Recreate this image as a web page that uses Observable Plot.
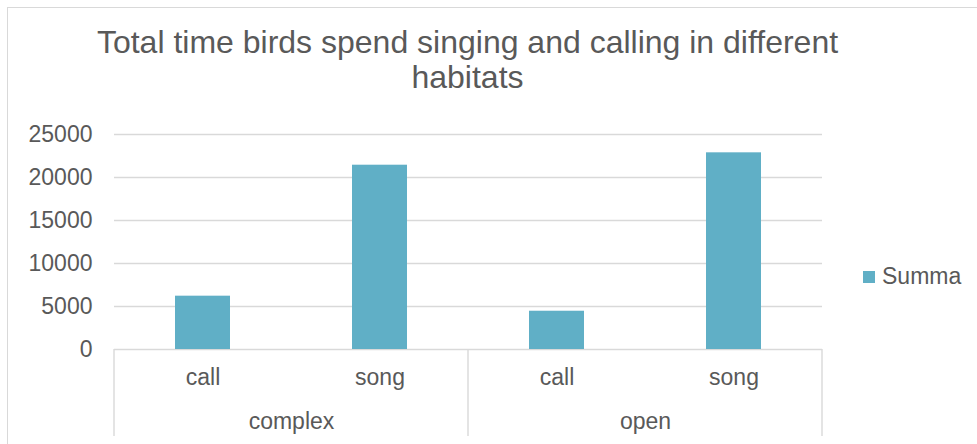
<!DOCTYPE html>
<html><head><meta charset="utf-8">
<script src="https://cdn.jsdelivr.net/npm/d3@7"></script>
<script src="https://cdn.jsdelivr.net/npm/@observablehq/plot@0.6"></script>
<style>
body{margin:0;background:#fff;font-family:"Liberation Sans",Arial,sans-serif;}
#wrap{position:relative;width:977px;height:444px;overflow:hidden;}
#border{position:absolute;left:7px;top:7px;width:1200px;height:1200px;border:1.5px solid #d9d9d9;box-sizing:border-box;}
#title{position:absolute;left:0;top:25px;width:935px;text-align:center;font-size:32px;line-height:35px;color:#595959;white-space:nowrap;}
#chart{position:absolute;left:0;top:0;}
#legend{position:absolute;left:863px;top:263px;font-size:23px;color:#595959;line-height:26px;white-space:nowrap;}
#legend span.sw{display:inline-block;width:12px;height:12px;background:#60afc6;margin-right:7px;vertical-align:1px;}
</style></head>
<body>
<div id="wrap">
  <div id="border"></div>
  <div id="chart"></div>
  <div id="title">Total time birds spend singing and calling in different<br>habitats</div>
  <div id="legend"><span class="sw"></span>Summa</div>
</div>
<script>
const habitats = ["complex", "complex", "open", "open"];
const types = ["call", "song", "call", "song"];
const values = [6200, 21430, 4450, 22870];
const yTicks = [0, 5000, 10000, 15000, 20000, 25000];
const seriesName = "Summa";

const data = values.map((v, i) => ({habitat: habitats[i], type: types[i], value: v}));
const groupDomain = [...new Set(habitats)];
const typeDomain = [...new Set(types)];
const groups = groupDomain.map(h => ({habitat: h}));

const gray = "#d9d9d9";
const textColor = "#595959";
const font = "'Liberation Sans', Arial, sans-serif";

const chart = Plot.plot({
  width: 977,
  height: 444,
  marginLeft: 113,
  marginRight: 155,
  marginTop: 134,
  marginBottom: 95,
  style: {fontFamily: font, color: textColor, background: "transparent", overflow: "visible"},
  fx: {domain: groupDomain, paddingInner: 0, paddingOuter: 0, axis: null, label: null},
  x: {domain: typeDomain, paddingInner: 0.69, paddingOuter: 0.345, axis: null, label: null},
  y: {domain: [0, 25000], axis: null},
  marks: [
    Plot.gridY(yTicks, {stroke: gray, strokeOpacity: 1, strokeWidth: 1.4}),
    Plot.barY(data, {fx: "habitat", x: "type", y: "value", fill: "#60afc6"}),
    Plot.axisY(yTicks, {anchor: "left", facetAnchor: "left", tickSize: 0, tickPadding: 22, fontSize: 23, fill: textColor, tickFormat: d => String(d), label: null}),
    Plot.text(data, {fx: "habitat", x: "type", text: "type", frameAnchor: "bottom", dy: 35, fontSize: 23, fill: textColor}),
    Plot.text(groups, {fx: "habitat", text: "habitat", frameAnchor: "bottom", dy: 79, fontSize: 23, fill: textColor})
  ]
});
document.getElementById("chart").appendChild(chart);

// group separators of the two-level category axis, placed with the fx / y scales
const fx = chart.scale("fx");
const y = chart.scale("y");
const edges = groupDomain.map(g => fx.apply(g));
edges.push(fx.apply(groupDomain[groupDomain.length - 1]) + fx.bandwidth);
const y0 = y.apply(0);
d3.select(chart).append("g")
  .attr("stroke", gray).attr("stroke-width", 1.4)
  .selectAll("line").data(edges).join("line")
  .attr("x1", d => d).attr("x2", d => d)
  .attr("y1", y0).attr("y2", y0 + 87);
</script>
</body></html>
